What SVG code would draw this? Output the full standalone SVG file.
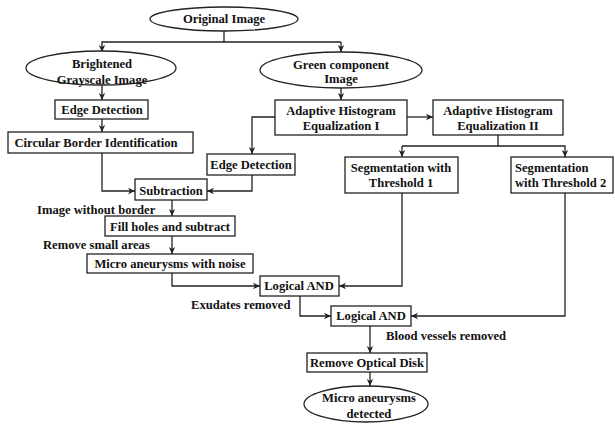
<svg xmlns="http://www.w3.org/2000/svg" width="615" height="424" viewBox="0 0 615 424">
<defs>
<marker id="ah" markerWidth="8" markerHeight="8" refX="7" refY="4" orient="auto" markerUnits="userSpaceOnUse">
<path d="M0,0.8 L7,4 L0,7.2 L2,4 Z" fill="#222"/>
</marker>
<style>
.n{fill:#fff;stroke:#222;stroke-width:1.3}
.t{font-family:"Liberation Serif","Times New Roman",serif;font-weight:bold;font-size:12.6px;fill:#111;text-anchor:middle}
.l{font-family:"Liberation Serif","Times New Roman",serif;font-weight:bold;font-size:12.6px;fill:#111}
.c{fill:none;stroke:#222;stroke-width:1.3}
.a{fill:none;stroke:#222;stroke-width:1.3;marker-end:url(#ah)}
</style>
</defs>
<rect width="615" height="424" fill="#fff"/>
<g id="connectors">
<path class="c" d="M224,31 V42 H341"/>
<path class="a" d="M224,42 H102 V52"/>
<path class="a" d="M341,42 V52"/>
<path class="a" d="M102,85 V100"/>
<path class="a" d="M341,88 V100"/>
<path class="a" d="M102,119 V132"/>
<path class="a" d="M407,117 H433"/>
<path class="a" d="M275,117 H252 V154"/>
<path class="c" d="M498,135 V146 H402"/>
<path class="a" d="M402,146 V157"/>
<path class="a" d="M498,146 H565 V157"/>
<path class="a" d="M102,153 V191 H135"/>
<path class="a" d="M252,175 V191 H207"/>
<path class="a" d="M172,200 V216"/>
<path class="a" d="M172,236 V254"/>
<path class="a" d="M172,273 V286 H260"/>
<path class="a" d="M402,193 V286 H339"/>
<path class="a" d="M300,296 V316 H331"/>
<path class="a" d="M565,193 V316 H411"/>
<path class="a" d="M370,326 V353"/>
<path class="a" d="M370,372 V386"/>
</g>
<g id="original">
<ellipse class="n" cx="224" cy="19" rx="74" ry="12"/>
<text class="t" x="224" y="23">Original Image</text>
</g>
<g id="brightened">
<ellipse class="n" cx="101" cy="68" rx="75" ry="17"/>
<text class="t" x="102" y="68">Brightened</text>
<text class="t" x="102" y="84">Grayscale Image</text>
</g>
<g id="green">
<ellipse class="n" cx="341" cy="70" rx="81" ry="18"/>
<text class="t" x="341" y="69">Green component</text>
<text class="t" x="341" y="83">Image</text>
</g>
<g id="edge1">
<rect class="n" x="55" y="100" width="93" height="19"/>
<text class="t" x="102" y="114">Edge Detection</text>
</g>
<g id="circular">
<rect class="n" x="8" y="132" width="185" height="21"/>
<text class="t" x="96" y="147">Circular Border Identification</text>
</g>
<g id="ahe1">
<rect class="n" x="275" y="100" width="132" height="35"/>
<text class="t" x="341" y="115">Adaptive Histogram</text>
<text class="t" x="341" y="130">Equalization I</text>
</g>
<g id="ahe2">
<rect class="n" x="433" y="100" width="130" height="35"/>
<text class="t" x="498" y="115">Adaptive Histogram</text>
<text class="t" x="498" y="130">Equalization II</text>
</g>
<g id="edge2">
<rect class="n" x="207" y="154" width="88" height="21"/>
<text class="t" x="251" y="169">Edge Detection</text>
</g>
<g id="seg1">
<rect class="n" x="345" y="157" width="113" height="36"/>
<text class="t" x="401" y="172">Segmentation with</text>
<text class="t" x="401" y="187">Threshold 1</text>
</g>
<g id="seg2">
<rect class="n" x="511" y="157" width="102" height="36"/>
<text class="l" x="515" y="172">Segmentation</text>
<text class="l" x="515" y="187">with Threshold 2</text>
</g>
<g id="subtraction">
<rect class="n" x="135" y="179" width="72" height="21"/>
<text class="t" x="171" y="195">Subtraction</text>
</g>
<text class="l" x="37" y="214">Image without border</text>
<g id="fill">
<rect class="n" x="105" y="216" width="130" height="20"/>
<text class="t" x="170" y="231">Fill holes and subtract</text>
</g>
<text class="l" x="43" y="249">Remove small areas</text>
<g id="micro">
<rect class="n" x="87" y="254" width="166" height="19"/>
<text class="t" x="170" y="268">Micro aneurysms with noise</text>
</g>
<g id="and1">
<rect class="n" x="260" y="276" width="79" height="20"/>
<text class="t" x="299" y="290">Logical AND</text>
</g>
<text class="l" x="191" y="309">Exudates removed</text>
<g id="and2">
<rect class="n" x="331" y="306" width="80" height="20"/>
<text class="t" x="371" y="320">Logical AND</text>
</g>
<text class="l" x="386" y="340">Blood vessels removed</text>
<g id="optical">
<rect class="n" x="307" y="353" width="120" height="19"/>
<text class="t" x="367" y="367">Remove Optical Disk</text>
</g>
<g id="detected">
<ellipse class="n" cx="366" cy="404" rx="62" ry="18"/>
<text class="t" x="369" y="402">Micro aneurysms</text>
<text class="t" x="369" y="418">detected</text>
</g>
</svg>
